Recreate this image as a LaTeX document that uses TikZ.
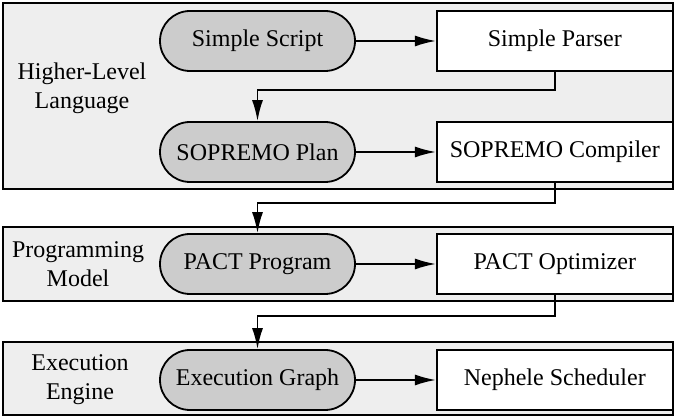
\documentclass[tikz,border=0pt]{standalone}
\usepackage{fontspec}
\setmainfont{Liberation Serif}
\newfontfamily\diagfont{Liberation Serif}
\usetikzlibrary{arrows.meta,positioning}

\begin{document}
\begin{tikzpicture}[->,>={Latex[length=10.5pt,width=5.5pt]},line width=0.9pt,
                    node distance=40pt,font=\diagfont\fontsize{12}{14.5}\selectfont]
    \tikzset{layer/.style={draw,fill=gray!13},
             data/.style={draw,fill=gray!40,rounded corners=15pt,minimum width=97.5pt,
                          minimum height=30pt,inner sep=0pt},
             tool/.style={draw,fill=white,minimum width=118pt,minimum height=30pt,
                          inner sep=0pt},
             layername/.style={align=center}}
    \useasboundingbox (0,0) rectangle (339.5pt,208pt);
    % layers
    \draw[layer,-] (1.5pt,113.5pt) rectangle (336.5pt,206.5pt);
    \draw[layer,-] (1.5pt,57.5pt) rectangle (336.5pt,94.5pt);
    \draw[layer,-] (1.5pt,0.5pt) rectangle (336.5pt,37pt);
    \node[layername] (hll) at (41pt,164pt) {Higher-Level\\Language};
    \node[layername] (pm) at (39pt,76pt) {Programming\\Model};
    \node[layername] (ee) at (40pt,18pt) {Execution\\Engine};
    % data and tools
    \node[data] (ss) at (128.75pt,187.5pt) {Simple Script};
    \node[tool] (sp) [right=of ss] {Simple Parser};
    \node[data] (plan) at (128.75pt,132pt) {SOPREMO Plan};
    \node[tool] (sc) [right=of plan] {SOPREMO Compiler};
    \node[data] (pp) at (128.75pt,76pt) {PACT Program};
    \node[tool] (po) [right=of pp] {PACT Optimizer};
    \node[data] (eg) at (128.75pt,18pt) {Execution Graph};
    \node[tool] (ns) [right=of eg] {Nephele Scheduler};
    \path
    (ss) edge (sp)
    (plan) edge (sc)
    (pp) edge (po)
    (eg) edge (ns);
    \draw (sp.south) -- ++(0,-9pt) -| (plan.north);
    \draw (sc.south) -- ++(0,-10pt) -| (pp.north);
    \draw (po.south) -- ++(0,-10.5pt) -| (eg.north);
\end{tikzpicture}
\end{document}
